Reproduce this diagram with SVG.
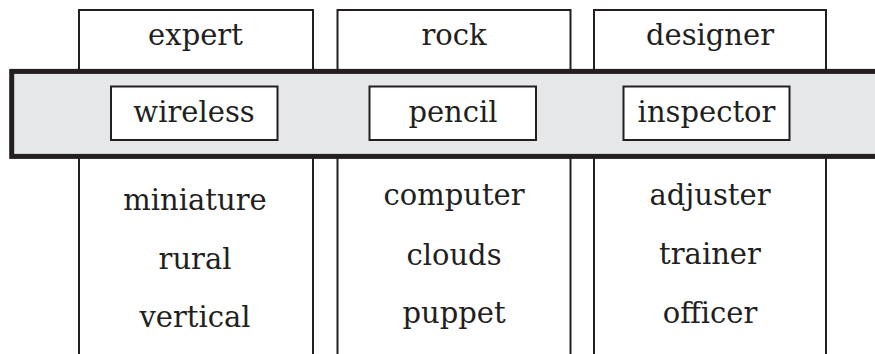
<svg xmlns="http://www.w3.org/2000/svg" width="875" height="354" viewBox="0 0 875 354">
<style>
.ln{fill:none;stroke:#231f20;stroke-width:2}
.box{fill:#fff;stroke:#231f20;stroke-width:2}
.band{fill:#e6e7e9;stroke:#231f20;stroke-width:5}
text{font-family:"DejaVu Serif","Liberation Serif",serif;font-size:29px;fill:#231f20;text-anchor:middle}
</style>
<g id="columns">
<g id="col1">
<rect class="box" x="79" y="10" width="234" height="70"/>
<text x="195.5" y="45">expert</text>
<path class="ln" d="M79 158V354M313 158V354"/>
<text x="195" y="209.5">miniature</text>
<text x="195" y="269">rural</text>
<text x="195" y="327">vertical</text>
</g>
<g id="col2">
<rect class="box" x="337.5" y="10" width="233" height="70"/>
<text x="454" y="45">rock</text>
<path class="ln" d="M337.5 158V354M570.5 158V354"/>
<text x="454" y="205">computer</text>
<text x="454" y="265">clouds</text>
<text x="454" y="323">puppet</text>
</g>
<g id="col3">
<rect class="box" x="594" y="10" width="232" height="70"/>
<text x="710" y="45">designer</text>
<path class="ln" d="M594 158V354M826 158V354"/>
<text x="710" y="205">adjuster</text>
<text x="710" y="264">trainer</text>
<text x="710" y="323">officer</text>
</g>
</g>
<g id="band">
<rect class="band" x="11.7" y="71.4" width="880" height="85"/>
</g>
<g id="wireless">
<rect class="box" x="111" y="86.5" width="166.5" height="53.5"/>
<text x="194" y="122.3">wireless</text>
</g>
<g id="pencil">
<rect class="box" x="369.5" y="86.5" width="166.5" height="53.5"/>
<text x="453" y="122.3">pencil</text>
</g>
<g id="inspector">
<rect class="box" x="623.5" y="86.5" width="166" height="53.5"/>
<text x="706.5" y="122.3">inspector</text>
</g>
<g id="connectors"></g>
</svg>
